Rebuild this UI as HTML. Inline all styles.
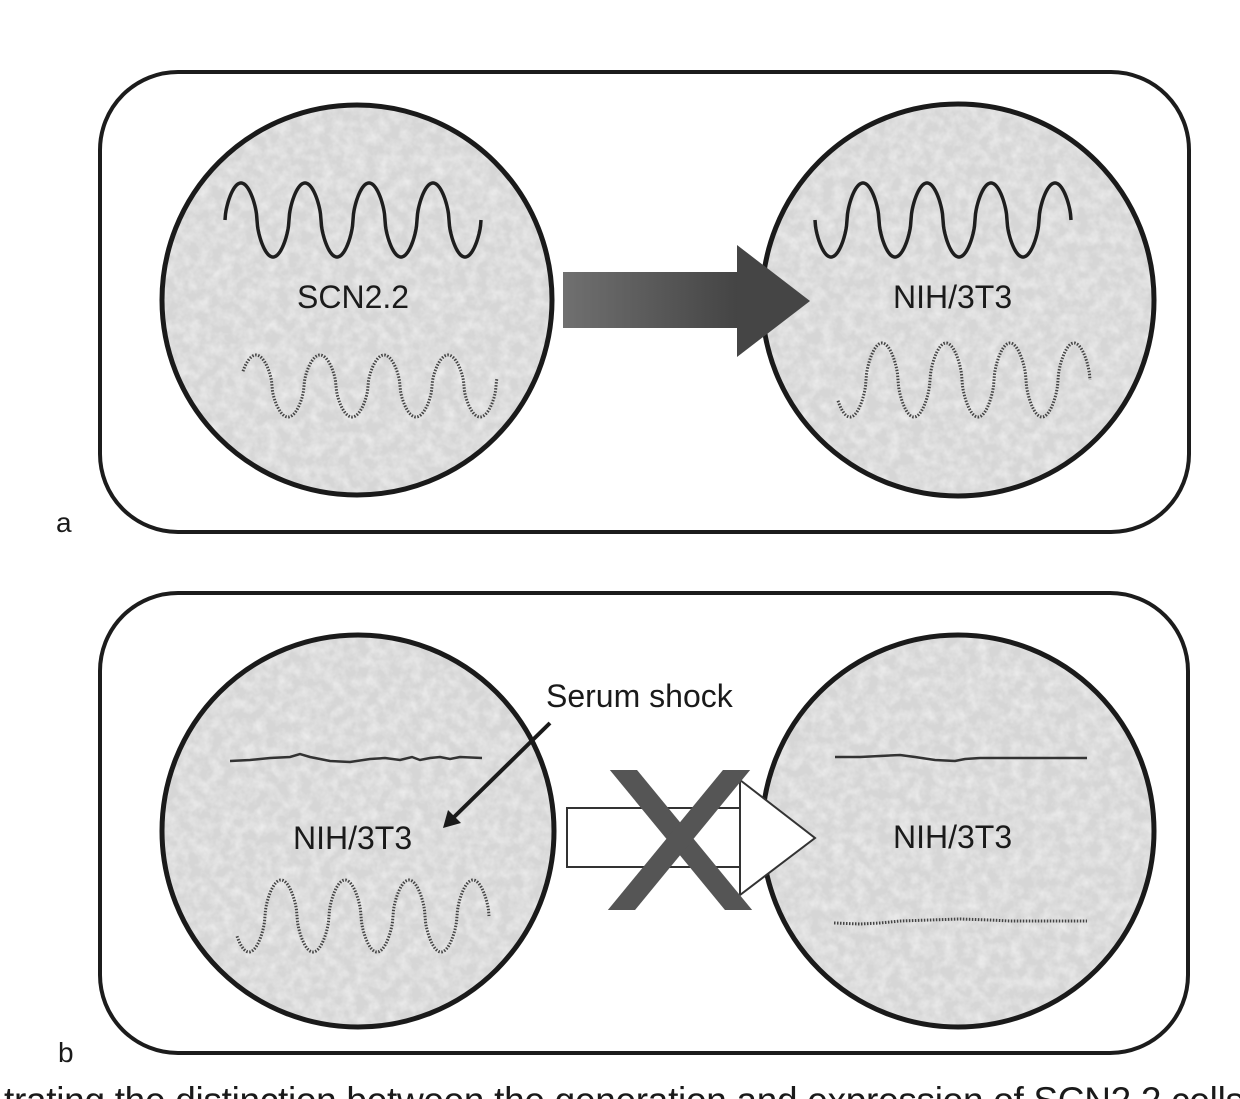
<!DOCTYPE html>
<html><head><meta charset="utf-8"><style>
html,body{margin:0;padding:0;background:#fff;}
svg{display:block;}
text{font-family:"Liberation Sans",Arial,sans-serif;fill:#1a1a1a;}
</style></head><body>
<svg id="s" width="1240" height="1099" viewBox="0 0 1240 1099" xmlns="http://www.w3.org/2000/svg">
<defs>
<filter id="tex" x="0" y="0" width="100%" height="100%">
<feTurbulence type="fractalNoise" baseFrequency="0.09" numOctaves="3" seed="3" result="n"/>
<feColorMatrix in="n" type="matrix" values="0 0 0 0 1  0 0 0 0 1  0 0 0 0 1  0 0 0 0.9 -0.3" result="w"/>
<feComposite in="w" in2="SourceGraphic" operator="in"/>
</filter>
<linearGradient id="g" x1="0" x2="1" y1="0" y2="0"><stop offset="0" stop-color="#707070"/><stop offset="1" stop-color="#444"/></linearGradient>
<clipPath id="xc"><rect x="600" y="770" width="160" height="140"/></clipPath>
</defs>
<rect x="100" y="72" width="1089" height="460" rx="78" fill="none" stroke="#1c1c1c" stroke-width="4"/>
<text x="56" y="532" font-size="28">a</text>
<circle cx="357" cy="300" r="195" fill="#d6d6d6"/>
<circle cx="357" cy="300" r="195" fill="#fff" filter="url(#tex)"/>
<circle cx="357" cy="300" r="195" fill="none" stroke="#1a1a1a" stroke-width="5"/>
<circle cx="958" cy="300" r="196" fill="#d6d6d6"/>
<circle cx="958" cy="300" r="196" fill="#fff" filter="url(#tex)"/>
<circle cx="958" cy="300" r="196" fill="none" stroke="#1a1a1a" stroke-width="5"/>
<rect x="563" y="272" width="176" height="56" fill="url(#g)"/>
<polygon points="737,245 810,301 737,357" fill="#454545"/>
<text x="297" y="308" font-size="32">SCN2.2</text>
<text x="893" y="308" font-size="32">NIH/3T3</text>
<rect x="100" y="593" width="1088" height="460" rx="78" fill="none" stroke="#1c1c1c" stroke-width="4"/>
<text x="58" y="1062" font-size="28">b</text>
<circle cx="358" cy="831" r="196" fill="#d6d6d6"/>
<circle cx="358" cy="831" r="196" fill="#fff" filter="url(#tex)"/>
<circle cx="358" cy="831" r="196" fill="none" stroke="#1a1a1a" stroke-width="5"/>
<circle cx="958" cy="831" r="196" fill="#d6d6d6"/>
<circle cx="958" cy="831" r="196" fill="#fff" filter="url(#tex)"/>
<circle cx="958" cy="831" r="196" fill="none" stroke="#1a1a1a" stroke-width="5"/>
<polyline points="230,761 250,760 270,758 290,757 300,754 310,757 330,761 350,762 370,759 385,758 400,760 412,757 420,760 430,758 440,757 450,759 460,757 482,758" fill="none" stroke="#333" stroke-width="2.5"/>
<polyline points="835,757 860,757 880,756 900,755 915,757 935,760 955,761 965,759 980,758 1000,758 1030,758 1060,758 1087,758" fill="none" stroke="#333" stroke-width="2.5"/>
<polyline points="834,923 860,924 880,923 900,921 930,920 960,919 990,920 1010,921 1040,921 1087,921" fill="none" stroke="#444" stroke-width="3" stroke-dasharray="1.5 1.5"/>
<text x="293" y="849" font-size="32">NIH/3T3</text>
<text x="893" y="848" font-size="32">NIH/3T3</text>
<text x="546" y="707" font-size="32">Serum shock</text>
<line x1="550" y1="723" x2="452" y2="819" stroke="#1a1a1a" stroke-width="4"/>
<polygon points="443,828 448,810 461,823" fill="#1a1a1a"/>
<rect x="567" y="808" width="173" height="59" fill="#fff" stroke="#333" stroke-width="2"/>
<polygon points="740,780 815,838 740,895" fill="#fff" stroke="#333" stroke-width="2"/>
<g clip-path="url(#xc)" stroke="#555" stroke-width="21">
<line x1="607" y1="750" x2="755" y2="930"/>
<line x1="753" y1="750" x2="605" y2="930"/>
</g>
<g id="waves"></g>
<text x="4" y="1113" font-size="37" textLength="1240" lengthAdjust="spacing">trating the distinction between the generation and expression of SCN2.2 cells</text>
</svg>
<script>
(function(){
var g=document.getElementById('waves');
function w(x0,x1,cy,a,ph,sign,dash,col,sw){
 var d='';
 for(var x=x0;x<=x1;x+=0.5){var s=Math.sin(2*Math.PI*(x-ph)/64);s=(s<0?-1:1)*Math.pow(Math.abs(s),0.6);var y=cy+sign*a*s;d+=(d?'L':'M')+x+' '+y.toFixed(2);}
 var p=document.createElementNS('http://www.w3.org/2000/svg','path');
 p.setAttribute('d',d);p.setAttribute('fill','none');p.setAttribute('stroke',col);
 p.setAttribute('stroke-width',sw);
 if(dash)p.setAttribute('stroke-dasharray',dash);
 g.appendChild(p);
}
w(225,481,220,37,225,-1,null,'#1e1e1e',3.5);
w(243,497,386,31,240,-1,'1.5 1.5','#444',3);
w(815,1071,220,37,815,1,null,'#1e1e1e',3.5);
w(838,1090,380,37,834,1,'1.5 1.5','#444',3);
w(237,489,916,36,233,1,'1.5 1.5','#444',3);
})();
</script>
</body></html>
